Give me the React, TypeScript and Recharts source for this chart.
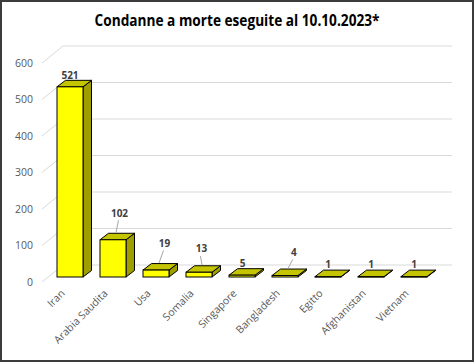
import React from 'react';
import { BarChart, Bar, XAxis, YAxis, CartesianGrid, LabelList } from 'recharts';

const countries = ['Iran', 'Arabia Saudita', 'Usa', 'Somalia', 'Singapore', 'Bangladesh', 'Egitto', 'Afghanistan', 'Vietnam'];
const executions = [521, 102, 19, 13, 5, 4, 1, 1, 1];
const yTicks = [0, 100, 200, 300, 400, 500, 600];
const titleText = 'Condanne a morte eseguite al 10.10.2023*';

// label placement tweaks (style, not data)
const labelDx = [0, 6.5, 8.5, 2.5, 0.5, 8.8, 0, 0, 0];
const labelDy = [-11.6, -26.6, -26.7, -23.3, -12, -23.2, -12.3, -12.3, -12.3];
const hasLeader = [false, true, true, true, false, true, false, false, false];

const data = countries.map((c, i) => ({ name: c, value: executions[i] }));

const DX = 8.5;
const DY = -6.5;
const FONT = '"Open Sans", "Liberation Sans", sans-serif';

const Bar3D = (props: any) => {
  const { x, y, width: w, height: h } = props;
  if (x == null || y == null) return null;
  const top = `${x},${y} ${x + DX},${y + DY} ${x + w + DX},${y + DY} ${x + w},${y}`;
  const side = `${x + w},${y} ${x + w + DX},${y + DY} ${x + w + DX},${y + h + DY} ${x + w},${y + h}`;
  return (
    <g>
      <polygon points={side} fill="#9e9e00" stroke="#000" strokeWidth={1} strokeLinejoin="round" />
      <polygon points={top} fill="#c4c400" stroke="#000" strokeWidth={1} strokeLinejoin="round" />
      <rect x={x} y={y} width={w} height={Math.max(h, 0.5)} fill="#ffff00" stroke="#000" strokeWidth={1} />
    </g>
  );
};

const GridLine = (props: any) => {
  const { x1, x2, y1 } = props;
  return (
    <g key={props.key}>
      <polyline
        points={`${x1 - 6},${y1 + 5} ${x1 + 15},${y1 - 12} ${x2 + 17},${y1 - 12}`}
        fill="none"
        stroke="#d9d9d9"
        strokeWidth={1}
      />
    </g>
  );
};

const YTick = (props: any) => {
  const { y, payload } = props;
  return (
    <text x={33} y={y + 5} dy="0.35em" textAnchor="end" fontSize={10.5} fontFamily={FONT} fill="#595959">
      {payload.value}
    </text>
  );
};

const XTick = (props: any) => {
  const { x, payload } = props;
  const ax = x - 4;
  const ay = 294;
  return (
    <text x={ax} y={ay} textAnchor="end" fontSize={10.5} fontFamily={FONT} fill="#595959" transform={`rotate(-45 ${ax} ${ay})`}>
      {payload.value}
    </text>
  );
};

const DataLabel = (props: any) => {
  const { x, y, width, value, index } = props;
  const cx = x + width / 2;
  const lx = cx + labelDx[index];
  const ly = y + labelDy[index];
  return (
    <g>
      {hasLeader[index] && (
        <line x1={lx - 1} y1={ly + 7} x2={cx + 3} y2={y - 7} stroke="#a6a6a6" strokeWidth={1} />
      )}
      <text x={lx} y={ly} dy="0.35em" textAnchor="middle" fontSize={10} fontWeight="bold" fontFamily={FONT} fill="#404040">
        {value}
      </text>
    </g>
  );
};

export default function App() {
  return (
    <div style={{ position: 'fixed', left: 0, top: 0, width: 474, height: 362, background: '#fff' }}>
      <BarChart width={474} height={362} data={data} margin={{ top: 58, right: 39, bottom: 55, left: 8 }}>
        <CartesianGrid vertical={false} horizontal={GridLine} />
        <YAxis
          width={40}
          domain={[0, 600]}
          ticks={yTicks}
          axisLine={false}
          tickLine={false}
          tick={YTick}
          interval={0}
        />
        <XAxis dataKey="name" height={30} axisLine={false} tickLine={false} tick={XTick} interval={0} />
        <Bar dataKey="value" barSize={26} shape={Bar3D} isAnimationActive={false}>
          <LabelList dataKey="value" content={DataLabel} />
        </Bar>
      </BarChart>
      <svg style={{ position: 'absolute', left: 0, top: 0 }} width={474} height={40}>
        <text
          x={237}
          y={26}
          textAnchor="middle"
          fontSize={16}
          fontWeight="bold"
          fontFamily={FONT}
          fill="#000"
          textLength={285}
          lengthAdjust="spacingAndGlyphs"
        >
          {titleText}
        </text>
      </svg>
      <div
        style={{
          position: 'absolute',
          left: 0,
          top: 0,
          width: 474,
          height: 362,
          border: '2px solid #3c3c3c',
          boxSizing: 'border-box',
          pointerEvents: 'none',
        }}
      />
    </div>
  );
}
